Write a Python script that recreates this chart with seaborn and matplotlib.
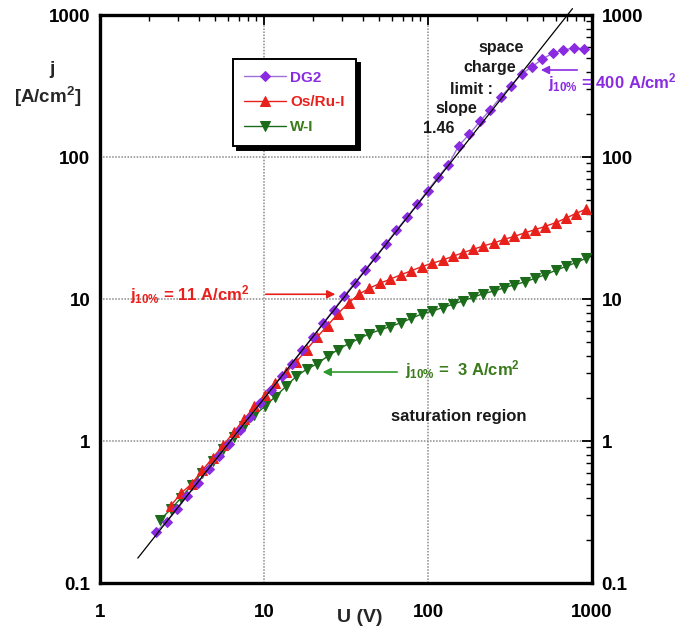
import matplotlib
matplotlib.use("Agg")
import numpy as np
import pandas as pd
import matplotlib.pyplot as plt
from matplotlib.ticker import LogLocator, NullFormatter
import seaborn as sns

# Current density vs. voltage for three cathodes
u_dg2 = [2.2, 2.55, 2.95, 3.4, 3.95, 4.6, 5.3, 6.1, 7.1, 8.2, 9.5, 11.0, 12.8, 14.8,
         17.1, 19.8, 23, 26.6, 30.8, 35.7, 41.3, 47.8, 55.4, 64.1, 74.2, 85.9, 99.5,
         115, 133, 154, 179, 207, 240, 278, 322, 372, 431, 499, 578, 669, 775, 898]
j_dg2 = [0.23, 0.27, 0.33, 0.41, 0.51, 0.63, 0.78, 0.96, 1.2, 1.47, 1.85, 2.3, 2.85, 3.5,
         4.35, 5.4, 6.8, 8.4, 10.5, 13, 16, 19.8, 24.5, 30.5, 37.5, 46.5, 58,
         72, 88, 120, 145, 178, 215, 265, 318, 385, 432, 490, 540, 567, 586, 575]

u_osru = [2.7, 3.13, 3.62, 4.2, 4.86, 5.63, 6.52, 7.55, 8.74, 10.1, 11.7, 13.6, 15.7,
          18.2, 21.1, 24.4, 28.3, 32.8, 37.9, 43.9, 50.9, 58.9, 68.2, 79, 91.5, 105.6,
          122.6, 142.2, 163.7, 188.7, 217.3, 253.5, 291.7, 336, 391, 450, 516, 601,
          697, 795, 915]
j_osru = [0.35, 0.43, 0.50, 0.62, 0.76, 0.93, 1.15, 1.42, 1.75, 2.1, 2.55, 3.05, 3.6,
          4.4, 5.4, 6.5, 7.9, 9.4, 10.8, 11.9, 12.9, 13.8, 14.8, 15.8, 16.9, 17.8,
          18.8, 20.0, 21.2, 22.4, 23.6, 24.9, 26.3, 27.6, 29.3, 30.8, 32.4, 34.5,
          37.2, 40.0, 42.8]

u_wi = [2.33, 2.7, 3.13, 3.62, 4.2, 4.86, 5.63, 6.52, 7.55, 8.74, 10.1, 11.7, 13.6,
        15.7, 18.2, 21.1, 24.4, 28.3, 32.8, 37.9, 43.9, 50.9, 58.9, 68.2, 79, 91.5,
        105.6, 122.6, 142.2, 163.7, 188.7, 217.3, 253.5, 291.7, 336, 391, 450, 516,
        601, 697, 795, 915]
j_wi = [0.28, 0.33, 0.40, 0.49, 0.60, 0.72, 0.88, 1.07, 1.28, 1.52, 1.75, 2.05, 2.42,
        2.85, 3.2, 3.5, 3.95, 4.4, 4.85, 5.25, 5.7, 6.05, 6.4, 6.8, 7.3, 7.84,
        8.2, 8.7, 9.2, 9.7, 10.3, 10.9, 11.4, 12.0, 12.6, 13.2, 14.0, 14.8,
        15.9, 17.0, 18.0, 19.3]

series_names = ["DG2", "Os/Ru-I", "W-I"]

# Space-charge limited fit: j = a * U^slope
fit_slope = 1.46
fit_prefactor = 0.069
fit_u_range = [1.7, 760]

x_ticks = [1, 10, 100, 1000]
x_tick_labels = ["1", "10", "100", "1000"]
y_ticks = [0.1, 1, 10, 100, 1000]
y_tick_labels = ["0.1", "1", "10", "100", "1000"]

sns.set_theme(style="white")
plt.rcParams["font.family"] = ["Liberation Sans", "DejaVu Sans"]
plt.rcParams["font.weight"] = "bold"
plt.rcParams["mathtext.fontset"] = "custom"
plt.rcParams["mathtext.rm"] = "Liberation Sans:bold"
plt.rcParams["mathtext.it"] = "Liberation Sans:bold"
plt.rcParams["mathtext.bf"] = "Liberation Sans:bold"

PURPLE = "#8A2BE2"
PURPLE_LINE = "#A070D8"
RED = "#E8201C"
GREEN = "#1B6B1B"
GREEN_TEXT = "#3A7A1A"

fig = plt.figure(figsize=(6.89, 6.31), dpi=100)
ax = fig.add_axes([100 / 689, 48 / 631, 492 / 689, 568 / 631])

df_wi = pd.DataFrame({"U": u_wi, "j": j_wi})
df_osru = pd.DataFrame({"U": u_osru, "j": j_osru})
df_dg2 = pd.DataFrame({"U": u_dg2, "j": j_dg2})

sns.lineplot(data=df_wi, x="U", y="j", ax=ax, color=GREEN, marker="v", markersize=7.5,
             markeredgecolor=GREEN, linewidth=1.0, sort=False, estimator=None,
             label=series_names[2], zorder=3)
sns.lineplot(data=df_osru, x="U", y="j", ax=ax, color=RED, marker="^", markersize=7.5,
             markeredgecolor=RED, linewidth=1.0, sort=False, estimator=None,
             label=series_names[1], zorder=4)
sns.lineplot(data=df_dg2, x="U", y="j", ax=ax, color=PURPLE_LINE, marker="D", markersize=5.5,
             markerfacecolor=PURPLE, markeredgecolor=PURPLE, linewidth=1.0, sort=False,
             estimator=None, label=series_names[0], zorder=5)

fit_u = np.array(fit_u_range)
ax.plot(fit_u, fit_prefactor * fit_u ** fit_slope, color="black", linewidth=0.9,
        zorder=6, clip_on=False)

ax.set_xscale("log")
ax.set_yscale("log")
ax.set_xlim(1, 1000)
ax.set_ylim(0.1, 1000)
ax.set_xlabel("")
ax.set_ylabel("")

ax.set_xticks(x_ticks, x_tick_labels)
ax.set_yticks(y_ticks, y_tick_labels)
ax.xaxis.set_minor_locator(LogLocator(base=10, subs=np.arange(2, 10)))
ax.yaxis.set_minor_locator(LogLocator(base=10, subs=np.arange(2, 10)))
ax.xaxis.set_minor_formatter(NullFormatter())
ax.yaxis.set_minor_formatter(NullFormatter())

ax.tick_params(which="both", direction="in", top=True, right=True, labelright=True,
               colors="black", labelsize=13.5)
ax.tick_params(which="major", length=7, width=1.3)
ax.tick_params(which="minor", length=4, width=1.0)
ax.tick_params(axis="x", which="major", pad=15)
ax.tick_params(axis="y", which="major", pad=7)
for lbl in ax.get_xticklabels() + ax.get_yticklabels():
    lbl.set_fontweight("bold")

for sp in ax.spines.values():
    sp.set_visible(True)
    sp.set_color("black")
    sp.set_linewidth(2.4)

ax.grid(which="major", color="#8a8a8a", linestyle=(0, (1, 1)), linewidth=1.1)
ax.set_axisbelow(True)

# Legend
handles, labels = ax.get_legend_handles_labels()
order = [labels.index(n) for n in series_names]
leg = ax.legend([handles[i] for i in order], [labels[i] for i in order],
                loc="upper left", bbox_to_anchor=(0.27, 0.922), frameon=True,
                fancybox=False, shadow={"ox": 3, "oy": -3, "color": "black", "alpha": 1.0},
                prop={"weight": "bold", "size": 11}, handlelength=2.7,
                handletextpad=0.3, borderpad=0.75, labelspacing=0.7, borderaxespad=0)
leg.get_frame().set_edgecolor("black")
leg.get_frame().set_linewidth(1.4)
for txt, col in zip(leg.get_texts(), [PURPLE, RED, GREEN_TEXT]):
    txt.set_color(col)

# Axis titles
fig.text(52 / 689, 1 - 70 / 631, "j", ha="center", va="center", fontsize=14,
         fontweight="bold")
fig.text(48 / 689, 1 - 97 / 631, "[A/cm$^{2}$]", ha="center", va="center",
         fontsize=13.5, fontweight="bold")
fig.text(360 / 689, 1 - 617 / 631, "U (V)", ha="center", va="center", fontsize=14,
         fontweight="bold")

# Space-charge annotation
slope_lines = [("space", 201.8, 586), ("charge", 163.4, 424), ("limit :", 136.2, 301),
               ("slope", 110.4, 221), ("1.46", 93.2, 160)]
for s, xu, yj in slope_lines:
    ax.text(xu, yj, s, ha="left", va="center", fontsize=11.5, fontweight="bold",
            color="#1a1a1a", zorder=7)

# j10% markers
ax.annotate("", xy=(469, 410), xytext=(845, 410),
            arrowprops=dict(arrowstyle="-|>", color=PURPLE, lw=1.2, mutation_scale=12),
            annotation_clip=False, zorder=7)
ax.text(539, 337, r"j$_{10\%}$ = 400 A/cm$^{2}$", ha="left", va="center", fontsize=12,
        fontweight="bold", color=PURPLE, clip_on=False, zorder=7)

ax.annotate("", xy=(28.3, 10.8), xytext=(9.85, 10.8),
            arrowprops=dict(arrowstyle="-|>", color=RED, lw=1.2, mutation_scale=12),
            zorder=7)
ax.text(1.523, 10.8, r"j$_{10\%}$ = 11 A/cm$^{2}$", ha="left", va="center", fontsize=12,
        fontweight="bold", color=RED, zorder=7)

ax.annotate("", xy=(21.9, 3.06), xytext=(67.5, 3.06),
            arrowprops=dict(arrowstyle="-|>", color="#2E9A2E", lw=1.2, mutation_scale=12),
            zorder=7)
ax.text(72.4, 3.16, r"j$_{10\%}$ =  3 A/cm$^{2}$", ha="left", va="center", fontsize=12,
        fontweight="bold", color=GREEN_TEXT, zorder=7)

ax.text(154.6, 1.476, "saturation region", ha="center", va="center", fontsize=12,
        fontweight="bold", color="#1a1a1a", zorder=7)

fig.savefig("out.png", dpi=100)
